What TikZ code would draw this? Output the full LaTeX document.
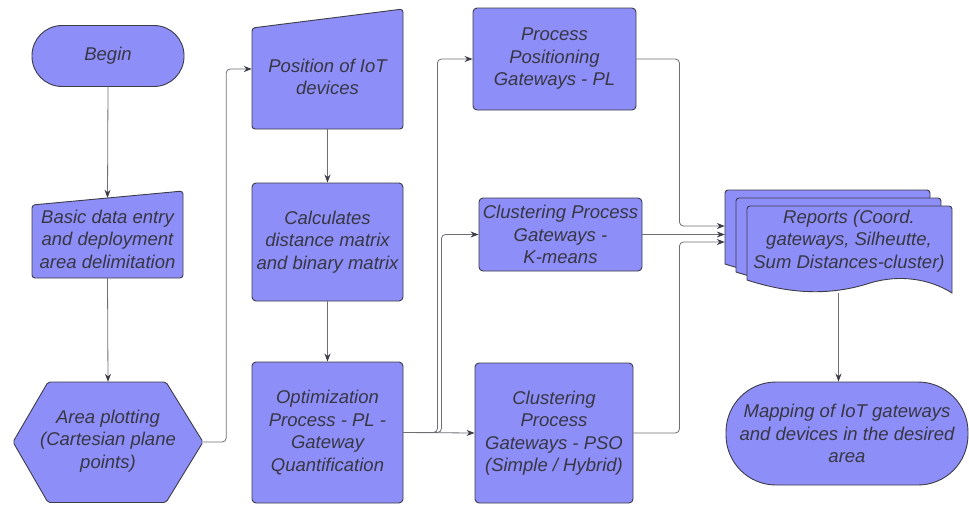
\documentclass[tikz,border=0pt]{standalone}
\usepackage{fontspec}
\setmainfont{Liberation Sans}
\usetikzlibrary{arrows.meta}
\definecolor{boxfill}{RGB}{142,142,248}
\definecolor{boxline}{RGB}{60,60,72}
\definecolor{txt}{RGB}{55,55,68}
\definecolor{conncol}{RGB}{110,110,115}
\begin{document}
\begin{tikzpicture}[x=1pt,y=-1pt,
  shapestyle/.style={fill=boxfill,draw=boxline,line width=0.9pt},
  lbl/.style={text=txt,font=\itshape\fontsize{18.5}{22.5}\selectfont,align=center,inner sep=0pt},
  boxn/.style={lbl,shapestyle,rounded corners=4pt,minimum width=#1},
  frame/.style={inner sep=0pt},
  conn/.style={draw=conncol,line width=0.8pt,rounded corners=4pt,-{Stealth[length=8pt,width=6pt,color=boxline]}}
]
\useasboundingbox (0,0) rectangle (969,504);

% Begin
\node[lbl,shapestyle,rounded corners=30pt,minimum width=152pt,minimum height=61pt] (begin) at (108,56) {Begin};

% Basic data entry (manual input)
\path[shapestyle,rounded corners=3pt] (32,205) -- (183,191) -- (183,278) -- (32,278) -- cycle;
\node[frame,minimum width=151pt,minimum height=80pt] (bde) at (107.5,238) {};
\node[lbl] (bdet) at (107.5,239) {Basic data entry\\and deployment\\area delimitation};

% Area plotting (hexagon)
\path[shapestyle,rounded corners=2pt] (13,442) -- (48,382) -- (166,382) -- (203,442) -- (166,502.5) -- (48,502.5) -- cycle;
\node[frame,minimum width=190pt,minimum height=120pt] (hex) at (108,442) {};
\node[lbl] (hext) at (108,441) {Area plotting\\(Cartesian plane\\points)};

% Position of IoT devices (manual input)
\path[shapestyle,rounded corners=3pt] (252,28) -- (403,9) -- (403,129) -- (252,129) -- cycle;
\node[frame,minimum width=151pt,minimum height=100pt] (pos) at (327.5,79) {};
\node[lbl] (post) at (327.5,77) {Position of IoT\\devices};

% Calculates
\node[boxn=151pt,minimum height=118pt] (calc) at (327.5,242) {Calculates\\distance matrix\\and binary matrix};

% Optimization
\node[boxn=151pt,minimum height=141pt] (opt) at (327.5,432.5) {Optimization\\Process - PL -\\Gateway\\Quantification};

% Process positioning
\node[boxn=163pt,minimum height=102pt] (pl) at (554.5,59) {Process\\Positioning\\Gateways - PL};

% K-means
\node[boxn=163pt,minimum height=73pt] (km) at (560.5,234.5) {Clustering Process\\Gateways -\\K-means};

% PSO
\node[boxn=158pt,minimum height=140pt] (pso) at (554,433) {Clustering\\Process\\Gateways - PSO\\(Simple / Hybrid)};

% Reports (multi-document)
\foreach \dx/\dy in {-22/-16,-11/-8,0/0}{
  \begin{scope}[shift={(\dx,\dy)}]
    \path[shapestyle] (747,280) [rounded corners=3pt] -- (747,206) -- (952,206) [sharp corners] -- (952,293)
      .. controls (930,279) and (900,274) .. (870,283)
      .. controls (830,296) and (790,294) .. (747,280) -- cycle;
  \end{scope}
}
\node[frame,minimum width=227pt,minimum height=102pt] (rep) at (838.5,241.5) {};
\node[lbl] (rept) at (849,241) {Reports (Coord.\\gateways, Silheutte,\\Sum Distances-cluster)};

% Mapping
\node[lbl,shapestyle,rounded corners=50pt,minimum width=242pt,minimum height=103pt] (map) at (847,433.5) {Mapping of IoT gateways\\and devices in the desired\\area};

% Connectors
\draw[conn] (begin.south) -- (bde.north);
\draw[conn] (bde.south) -- (hex.north);
\draw[conn] (hex.east) -- ++(23,0) |- ([yshift=10pt]pos.west);
\draw[conn] (pos.south) -- (calc.north);
\draw[conn] (calc.south) -- (opt.north);
\draw[conn] (opt.east) -- ++(34,0) |- (pl.west);
\draw[conn] (opt.east) -- ++(38,0) |- (km.west);
\draw[conn] (opt.east) -- (pso.west);
\draw[conn] (pl.east) -- ++(43,0) |- ([yshift=15.5pt]rep.west);
\draw[conn] (km.east) -- (km.east -| rep.west);
\draw[conn] (pso.east) -- ++(46,0) |- ([yshift=-0.5pt]rep.west);
\draw[conn] (rep.south) -- (rep.south |- map.north);
\end{tikzpicture}
\end{document}
